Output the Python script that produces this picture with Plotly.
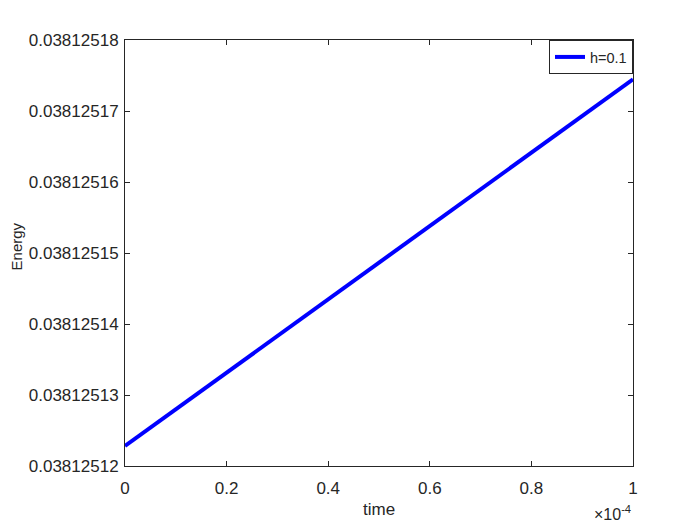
import plotly.graph_objects as go

time = [0.0, 1e-4]
energy = [0.03812512282, 0.03812517446]
series_name = "h=0.1"

x_tickvals = [0, 0.2e-4, 0.4e-4, 0.6e-4, 0.8e-4, 1e-4]
x_ticktext = ["0", "0.2", "0.4", "0.6", "0.8", "1"]
y_tickvals = [0.03812512, 0.03812513, 0.03812514, 0.03812515, 0.03812516, 0.03812517, 0.03812518]
y_ticktext = ["0.03812512", "0.03812513", "0.03812514", "0.03812515", "0.03812516", "0.03812517", "0.03812518"]

font = "Liberation Sans, Arial, Helvetica, sans-serif"
dark = "#262626"

fig = go.Figure()
fig.add_trace(go.Scatter(x=time, y=energy, mode="lines", name=series_name,
                         line=dict(color="#0000ff", width=4)))

fig.update_layout(
    width=692, height=517,
    margin=dict(l=117, r=67, t=32, b=59),
    paper_bgcolor="white", plot_bgcolor="white",
    font=dict(family=font, size=16, color=dark),
    showlegend=True,
    legend=dict(x=1, y=1, xanchor="right", yanchor="top",
                bordercolor=dark, borderwidth=1, bgcolor="white",
                font=dict(size=14.5, color=dark),
                tracegroupgap=0, itemwidth=30),
    xaxis=dict(range=[0, 1e-4], tickvals=x_tickvals, ticktext=x_ticktext,
               showgrid=False, zeroline=False, showline=True, linecolor=dark, linewidth=1,
               mirror="ticks", ticks="inside", ticklen=5, tickcolor=dark,
               ticklabelstandoff=7,
               tickfont=dict(size=17, color=dark)),
    yaxis=dict(range=[0.03812512, 0.03812518], tickvals=y_tickvals, ticktext=y_ticktext,
               showgrid=False, zeroline=False, showline=True, linecolor=dark, linewidth=1,
               mirror="ticks", ticks="inside", ticklen=5, tickcolor=dark,
               ticklabelstandoff=2,
               tickfont=dict(size=17, color=dark)),
    annotations=[
        dict(text="time", xref="paper", yref="paper", x=0.5, y=-0.103,
             xanchor="center", yanchor="middle", showarrow=False,
             font=dict(size=17, color=dark)),
        dict(text="Energy", xref="paper", x=-0.213, yref="paper", y=0.515, textangle=-90,
             xanchor="center", yanchor="middle", showarrow=False,
             font=dict(size=15, color=dark)),
        dict(text="×10<sup>-4</sup>", xref="paper", yref="paper", x=1.0, y=-0.11,
             xanchor="right", yanchor="middle", showarrow=False,
             font=dict(size=16, color=dark)),
    ],
)

fig.write_html("out.html")
